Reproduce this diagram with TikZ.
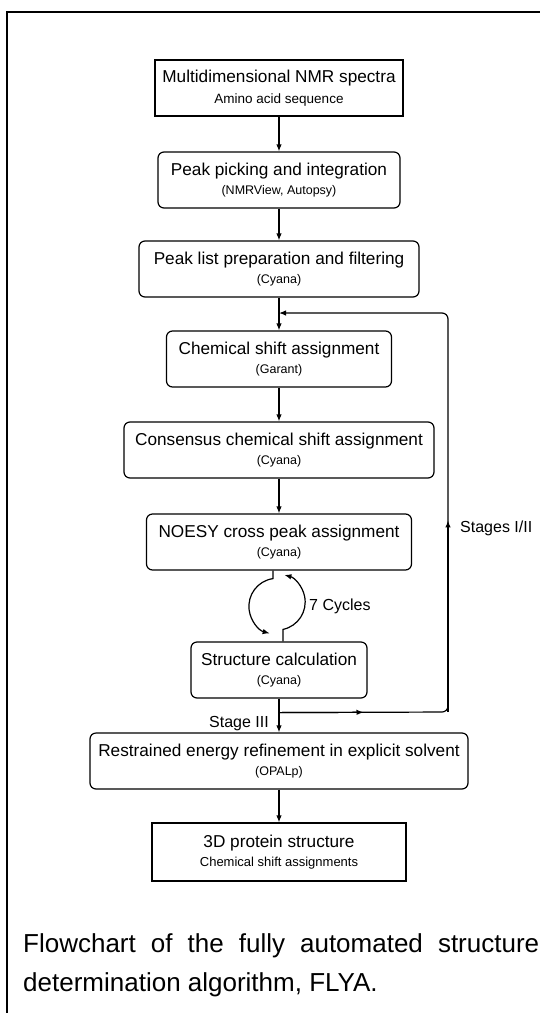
\documentclass[tikz,border=0pt]{standalone}
\usepackage{fontspec}
\setmainfont{Liberation Sans}
\usetikzlibrary{arrows.meta,calc}

\tikzset{
  procbox/.style={draw,line width=1.2pt,rounded corners=6pt,minimum height=56pt,
    inner sep=2pt,align=center,font=\fontsize{17.2}{18.5}\selectfont},
  databox/.style={procbox,sharp corners},
  arr/.style={line width=1.2pt,-{Latex[length=7pt,width=5.5pt]}},
  lbl/.style={inner sep=0pt,font=\fontsize{16}{18}\selectfont}
}
\newcommand{\toolname}[1]{{\fontsize{12.5}{18.5}\selectfont #1}}

\begin{document}
\begin{tikzpicture}[x=1pt,y=1pt]
\useasboundingbox (0,0) rectangle (540,-1013);
% frame
\draw[line width=1.5pt] (540,-12) -- (7,-12) -- (7,-1013);

\node[databox,minimum width=248pt,font=\fontsize{17.2}{21}\selectfont] (multi) at (279,-88) {Multidimensional NMR spectra\\\toolname{\fontsize{13.5}{21}\selectfont Amino acid sequence}};
\node[procbox,minimum width=242pt] (pick) at (279,-180) {Peak picking and integration\\\toolname{(NMRView, Autopsy)}};
\node[procbox,minimum width=280pt] (peaks) at (279,-269) {Peak list preparation and filtering\\\toolname{(Cyana)}};
\node[procbox,minimum width=225pt] (shift) at (279,-359) {Chemical shift assignment\\\toolname{(Garant)}};
\node[procbox,minimum width=310pt] (consensus) at (279,-450) {Consensus chemical shift assignment\\\toolname{(Cyana)}};
\node[procbox,minimum width=265pt] (noesy) at (279,-542) {NOESY cross peak assignment\\\toolname{(Cyana)}};
\node[procbox,minimum width=176pt] (calc) at (279,-670) {Structure calculation\\\toolname{(Cyana)}};
\node[procbox,minimum width=378pt] (refine) at (279,-761) {Restrained energy refinement in explicit solvent\\\toolname{(OPALp)}};
\node[databox,minimum width=254pt,minimum height=58pt] (result) at (279,-852) {3D protein structure\\\toolname{\fontsize{13}{18.5}\selectfont Chemical shift assignments}};

\node[lbl,anchor=base west] (cycles) at (309,-610) {7 Cycles};
\node[lbl,anchor=base east] (stage3) at (269,-727) {Stage III};
\node[lbl,anchor=base west] (stages12) at (460,-532) {Stages I/II};

% main flow
\draw[arr] (multi) -- (pick);
\draw[arr] (pick) -- (peaks);
\draw[arr] (peaks) -- (shift);
\draw[arr] (shift) -- (consensus);
\draw[arr] (consensus) -- (noesy);
\draw[arr] (calc) -- (refine);
\draw[arr] (refine) -- (result);

% 7 cycles loop
\draw[arr] ([xshift=-6pt]noesy.south) -- ++(0,-8) arc[start angle=98,end angle=255,radius=28];
\draw[arr] ([xshift=4pt]calc.north) -- ++(0,12) arc[start angle=-78,end angle=75,radius=28];

% feedback for stages I/II
\coordinate (br) at ($(calc.south)+(0,-14)$);
\coordinate (fbr) at (448,-712);
\coordinate (ftr) at (448,-313);
\coordinate (join) at (peaks.south |- ftr);
\draw[arr,rounded corners=6pt] (br) -- (fbr) -- (ftr) -- (join);
\draw[arr] (br) -- ($(br)!.5!(fbr)$);
\draw[arr] (fbr) -- ($(fbr)!.48!(ftr)$);

% caption
\node[anchor=north west,inner sep=0pt,align=left,font=\fontsize{26}{39.3}\selectfont] (caption) at (23,-933)
  {\makebox[516pt][s]{Flowchart of the fully automated structure}\\determination algorithm, FLYA.};
\end{tikzpicture}
\end{document}
